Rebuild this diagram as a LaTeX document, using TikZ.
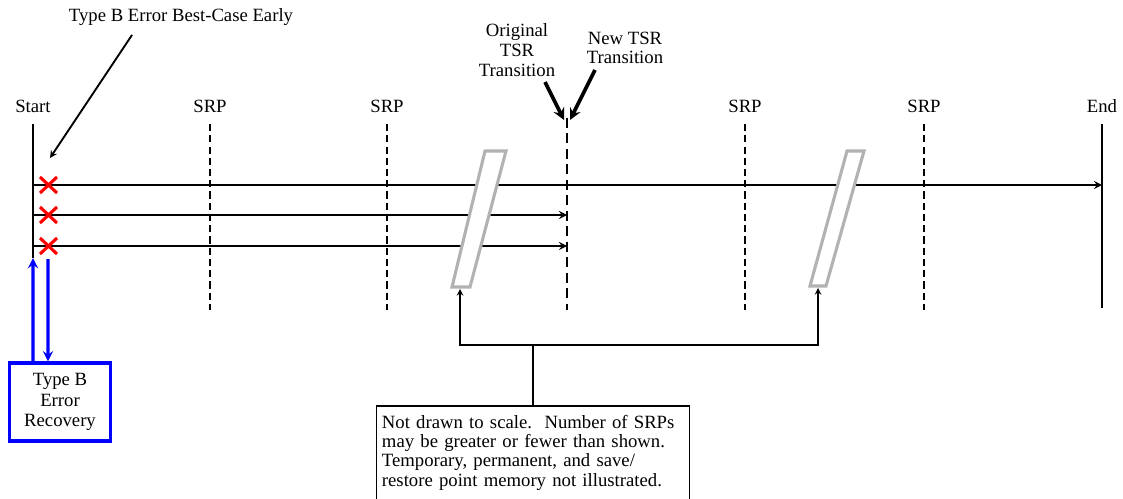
\documentclass[tikz,border=0pt]{standalone}
\usepackage{fontspec}
\setmainfont{Liberation Serif}
\usetikzlibrary{positioning}

\begin{document}
\begin{tikzpicture}[x=0.025cm,y=-0.025cm,
  every node/.style={font=\fontsize{13.3}{14}\selectfont, inner sep=1pt},
  tline/.style={black, line width=1.5pt},
  srpline/.style={black, line width=1.5pt, dash pattern=on 5pt off 3pt},
  tsrline/.style={black, line width=1.8pt, dash pattern=on 7pt off 4pt},
  runarrow/.style={black, line width=1.5pt, -{stealth}},
  xmark/.style={red, line width=2.2pt},
  brk/.style={black!30, line width=2.2pt, fill=white},
  callout/.style={black, line width=1.3pt, -{stealth}},
  bigcallout/.style={black, line width=2.6pt, -{stealth}},
  recarrow/.style={blue, line width=2.2pt, -{stealth}},
  thinarrow/.style={black, line width=1.1pt, -{stealth}}
  ]
\useasboundingbox (0,0) rectangle (1123,499);

% start, end and SRP lines
\node (start) at (33,106) {Start};
\node (end) at (1102,106) {End};
\coordinate (st0) at (33,124);
\coordinate (st1) at (33,258);
\coordinate (en0) at (1102,124);
\coordinate (en1) at (1102,308);
\draw[tline] (st0) -- (st1);
\draw[tline] (en0) -- (en1);
\foreach \x/\n in {210/a,387/b,745/c,924/d}{
  \node (srp\n) at (\x,106) {SRP};
  \coordinate (srp\n0) at (\x,124);
  \coordinate (srp\n1) at (\x,310);
  \draw[srpline] (srp\n0) -- (srp\n1);
}
\coordinate (tsr0) at (567,118);
\coordinate (tsr1) at (567,310);
\draw[tsrline] (tsr0) -- (tsr1);

% runs
\coordinate (ra0) at (33,185);
\coordinate (ra1) at (1102,185);
\coordinate (rb0) at (33,215);
\coordinate (rb1) at (567,215);
\coordinate (rc0) at (33,246);
\coordinate (rc1) at (567,246);
\draw[runarrow] (ra0) -- (ra1);
\draw[runarrow] (rb0) -- (rb1);
\draw[runarrow] (rc0) -- (rc1);

% breaks
\draw[brk] (485,151) -- (506,151) -- (470,287) -- (452,287) -- cycle;
\draw[brk] (847,151) -- (864,151) -- (826,286) -- (810,286) -- cycle;

% errors
\foreach \y in {185,215,246}
  \draw[xmark] (40,\y-8) -- (57,\y+8) (40,\y+8) -- (57,\y-8);

% best-case label
\node (bce) at (181,17) {Type B Error Best-Case Early};
\coordinate (bce0) at (132,35);
\coordinate (bce1) at (50,158);
\draw[callout] (bce0) -- (bce1);

% TSR labels
\node[align=center] (orig) at (517,50) {Original\\TSR\\Transition};
\node[align=center] (newtsr) at (625,48) {New TSR\\Transition};
\coordinate (ot0) at (545,82);
\coordinate (ot1) at (564,120);
\coordinate (nt0) at (595,70);
\coordinate (nt1) at (570,120);
\draw[bigcallout] (ot0) -- (ot1);
\draw[bigcallout] (nt0) -- (nt1);

% recovery
\node[draw=blue, line width=2.2pt, align=center, minimum width=2.53cm, minimum height=1.95cm,
  font=\fontsize{13.3}{14.5}\selectfont] (rec) at (60,402) {Type B\\Error\\Recovery};
\coordinate (rd0) at (48,259);
\draw[recarrow] ([xshift=-0.675cm]rec.north) -- (st1);
\draw[recarrow] (rd0) -- ([xshift=-0.3cm]rec.north);

% note
\node[draw, line width=1.1pt, anchor=north, align=left, text width=7.55cm, inner xsep=0.14cm,
  minimum height=2.35cm, font=\fontsize{13.3}{13.6}\selectfont] (note) at (533,405)
  {Not drawn to scale.\ \ Number of SRPs\\may be greater or fewer than shown.\\Temporary, permanent, and save/\\restore point memory not illustrated.};
\coordinate (jn) at (533,345);
\coordinate (bk1) at (460,289);
\coordinate (bk2) at (818,288);
\draw[line width=1.1pt] (note.north) -- (jn);
\draw[thinarrow] (jn) -| (bk1);
\draw[thinarrow] (jn) -| (bk2);
\end{tikzpicture}
\end{document}
